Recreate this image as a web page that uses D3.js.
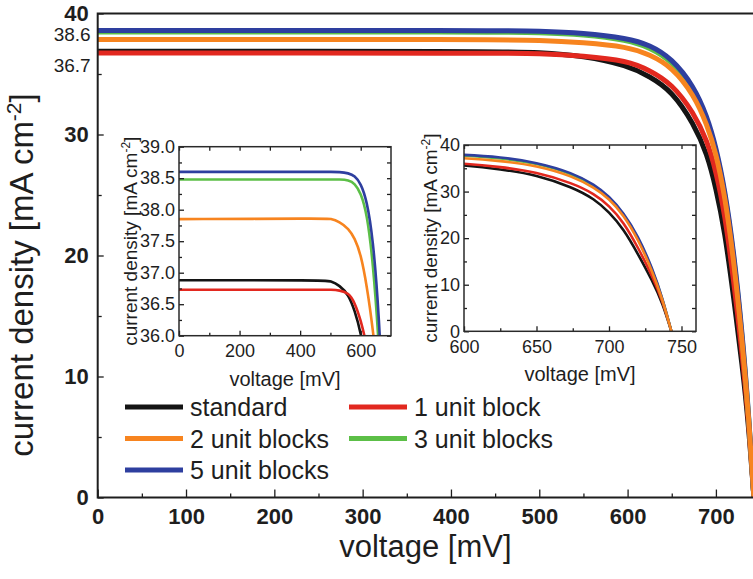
<!DOCTYPE html>
<html>
<head>
<meta charset="utf-8">
<script src="https://d3js.org/d3.v7.min.js"></script>
<style>
body { margin: 0; background: #fff; }
svg { display: block; font-family: "Liberation Sans", Arial, sans-serif; }
</style>
</head>
<body>
<div id="chart"></div>
<script>
// series, drawn in this order (later ones lie on top)
var seriesNames = ['standard', '1 unit block', '3 unit blocks', '5 unit blocks', '2 unit blocks'];
var seriesColors = ['#141414', '#e2281f', '#5cbf47', '#2e3f9f', '#f7841f'];

// J-V curves for the main plot and the right inset [mV] / [mA cm-2]
var voltage = [0, 450, 500, 550, 600, 625, 650, 675, 690, 700, 710, 720, 730, 737, 743];
var jStandard = [36.88, 36.88, 36.8, 36.5, 35.7, 34.8, 33.6, 30.9, 28.4, 25.6, 22.0, 16.6, 10.8, 6.0, 0];
var jOneBlock = [36.73, 36.73, 36.7, 36.5, 36.1, 35.3, 34.2, 31.8, 29.5, 27.0, 23.5, 18.0, 11.8, 6.5, 0];
var jTwoBlocks = [37.85, 37.85, 37.8, 37.6, 37.25, 36.6, 35.6, 33.3, 30.8, 28.5, 25.0, 19.8, 12.8, 6.8, 0];
var jThreeBlocks = [38.48, 38.48, 38.43, 38.28, 37.8, 37.2, 36.1, 33.8, 31.3, 28.8, 25.3, 20.2, 13.2, 6.9, 0];
var jFiveBlocks = [38.6, 38.6, 38.55, 38.4, 37.95, 37.4, 36.3, 34.0, 31.5, 29.0, 25.5, 20.5, 13.5, 7.0, 0];

// left inset (plateau zoom)
var insetVoltage = [0, 480, 500, 530, 560, 580, 600, 620, 640, 660, 680];
var iStandard = [36.88, 36.88, 36.87, 36.8, 36.65, 36.4, 36.06, 35.5, 34.8, 34.0, 33.0];
var iOneBlock = [36.73, 36.73, 36.73, 36.72, 36.68, 36.53, 36.25, 35.85, 35.3, 34.5, 33.5];
var iTwoBlocks = [37.85, 37.86, 37.86, 37.81, 37.7, 37.55, 37.3, 36.8, 36.12, 35.2, 34.0];
var iThreeBlocks = [38.48, 38.48, 38.48, 38.48, 38.47, 38.42, 38.27, 37.95, 37.2, 35.9, 34.0];
var iFiveBlocks = [38.6, 38.6, 38.6, 38.6, 38.58, 38.54, 38.42, 38.15, 37.56, 36.4, 34.3];

// ticks
var mainXTicks = [0, 100, 200, 300, 400, 500, 600, 700];
var mainXMinor = [50, 150, 250, 350, 450, 550, 650];
var mainYTicks = [0, 10, 20, 30, 40];
var mainYMinor = [5, 15, 25, 35];
var jscMarks = [38.6, 36.7];

var leftXTicks = [0, 200, 400, 600];
var leftXMinor = [100, 300, 500];
var leftYTicks = [36.0, 36.5, 37.0, 37.5, 38.0, 38.5, 39.0];
var leftYMinor = [36.25, 36.75, 37.25, 37.75, 38.25, 38.75];

var rightXTicks = [600, 650, 700, 750];
var rightXMinor = [625, 675, 725];
var rightYTicks = [0, 10, 20, 30, 40];
var rightYMinor = [5, 15, 25, 35];

// legend layout: display order
var legendOrder = ['standard', '1 unit block', '2 unit blocks', '3 unit blocks', '5 unit blocks'];

var mainCurves = [jStandard, jOneBlock, jThreeBlocks, jFiveBlocks, jTwoBlocks];
var insetCurves = [iStandard, iOneBlock, iThreeBlocks, iFiveBlocks, iTwoBlocks];

var W = 753, H = 579;
var svg = d3.select('#chart').append('svg')
    .attr('width', W)
    .attr('height', H);

svg.append('rect').attr('width', W).attr('height', H).attr('fill', '#fff');

var axisColor = '#1e1e1e';

function styleAxis(g, size, bold) {
    g.select('.domain').remove();
    g.selectAll('line').attr('stroke', axisColor).attr('stroke-width', 1.3);
    g.selectAll('text')
        .attr('fill', '#1e1e1e')
        .style('font-size', size + 'px')
        .style('font-weight', bold ? 'bold' : 'normal')
        .style('font-family', '"Liberation Sans", Arial, sans-serif');
}

function curvePts(vs, js) {
    return vs.map(function (v, i) { return [v, js[i]]; });
}

// ---------- main plot ----------
var x = d3.scaleLinear().domain([0, 742]).range([97.7, 753]);
var y = d3.scaleLinear().domain([0, 40]).range([497.5, 13.5]);

svg.append('clipPath').attr('id', 'clipMain')
    .append('rect')
    .attr('x', x(0)).attr('y', y(40))
    .attr('width', x(742) - x(0)).attr('height', y(0) - y(40));

var line = d3.line()
    .x(function (d) { return x(d[0]); })
    .y(function (d) { return y(d[1]); })
    .curve(d3.curveBasis);

svg.append('g').attr('clip-path', 'url(#clipMain)')
    .selectAll('path')
    .data(mainCurves)
    .enter().append('path')
    .attr('d', function (d) { return line(curvePts(voltage, d)); })
    .attr('fill', 'none')
    .attr('stroke', function (d, i) { return seriesColors[i]; })
    .attr('stroke-width', 5);

// axes
var gx = svg.append('g').attr('transform', 'translate(0,' + y(0) + ')')
    .call(d3.axisBottom(x).tickValues(mainXTicks).tickSize(-8).tickSizeOuter(0).tickPadding(11));
styleAxis(gx, 22, true);
var gxm = svg.append('g').attr('transform', 'translate(0,' + y(0) + ')')
    .call(d3.axisBottom(x).tickValues(mainXMinor).tickSize(-4).tickFormat(''));
styleAxis(gxm, 10, false);

var gy = svg.append('g').attr('transform', 'translate(' + x(0) + ',0)')
    .call(d3.axisLeft(y).tickValues(mainYTicks).tickSize(-6).tickSizeOuter(0).tickPadding(9));
styleAxis(gy, 22, true);
var gym = svg.append('g').attr('transform', 'translate(' + x(0) + ',0)')
    .call(d3.axisLeft(y).tickValues(mainYMinor).tickSize(-4).tickFormat(''));
styleAxis(gym, 10, false);

// frame lines (left, bottom, top)
svg.append('path')
    .attr('d', 'M' + x(742) + ',' + y(40) + 'H' + x(0) + 'V' + y(0) + 'H' + x(742))
    .attr('fill', 'none')
    .attr('stroke', axisColor)
    .attr('stroke-width', 2);

// Jsc labels next to the axis
svg.selectAll('text.jsc')
    .data(jscMarks)
    .enter().append('text')
    .attr('class', 'jsc')
    .attr('x', x(0) - 7)
    .attr('y', function (d, i) { return y(d) + (i === 0 ? 11 : 19); })
    .attr('text-anchor', 'end')
    .attr('fill', '#1e1e1e')
    .style('font-size', '19px')
    .text(function (d) { return d.toFixed(1); });

// axis titles
svg.append('text')
    .attr('x', (x(0) + x(742)) / 2)
    .attr('y', 557)
    .attr('text-anchor', 'middle')
    .attr('fill', '#1e1e1e')
    .style('font-size', '31px')
    .text('voltage [mV]');

var yt = svg.append('text')
    .attr('transform', 'translate(33,' + 275 + ') rotate(-90)')
    .attr('text-anchor', 'middle')
    .attr('fill', '#1e1e1e')
    .style('font-size', '33px');
yt.append('tspan').text('current density [mA cm');
yt.append('tspan').attr('dy', -12).style('font-size', '21px').text('-2');
yt.append('tspan').attr('dy', 12).text(']');

// legend
var legend = svg.append('g');
legendOrder.forEach(function (name, k) {
    var col = k % 2, row = Math.floor(k / 2);
    var lx = col === 0 ? 125 : 349;
    var ly = 407 + row * 31.5;
    var idx = seriesNames.indexOf(name);
    legend.append('line')
        .attr('x1', lx).attr('x2', lx + 58)
        .attr('y1', ly).attr('y2', ly)
        .attr('stroke', seriesColors[idx])
        .attr('stroke-width', 5);
    legend.append('text')
        .attr('x', lx + 65)
        .attr('y', ly + 9)
        .attr('fill', '#1e1e1e')
        .style('font-size', '25px')
        .text(name);
});

// ---------- inset drawing helper ----------
function drawInset(opt) {
    var ix = d3.scaleLinear().domain(opt.xDomain).range(opt.xRange);
    var iy = d3.scaleLinear().domain(opt.yDomain).range(opt.yRange);
    var g = svg.append('g');

    g.append('rect')
        .attr('x', opt.xRange[0]).attr('y', opt.yRange[1])
        .attr('width', opt.xRange[1] - opt.xRange[0])
        .attr('height', opt.yRange[0] - opt.yRange[1])
        .attr('fill', '#fff');

    g.append('clipPath').attr('id', opt.id)
        .append('rect')
        .attr('x', opt.xRange[0]).attr('y', opt.yRange[1])
        .attr('width', opt.xRange[1] - opt.xRange[0])
        .attr('height', opt.yRange[0] - opt.yRange[1]);

    var ln = d3.line()
        .x(function (d) { return ix(d[0]); })
        .y(function (d) { return iy(d[1]); })
        .curve(d3.curveBasis);

    g.append('g').attr('clip-path', 'url(#' + opt.id + ')')
        .selectAll('path')
        .data(opt.curves)
        .enter().append('path')
        .attr('d', function (d) { return ln(curvePts(opt.volts, d)); })
        .attr('fill', 'none')
        .attr('stroke', function (d, i) { return seriesColors[i]; })
        .attr('stroke-width', 2.6);

    var b = g.append('g').attr('transform', 'translate(0,' + opt.yRange[0] + ')')
        .call(d3.axisBottom(ix).tickValues(opt.xTicks).tickSize(-5).tickSizeOuter(0).tickPadding(9).tickFormat(d3.format('d')));
    styleAxis(b, 18, false);
    var bm = g.append('g').attr('transform', 'translate(0,' + opt.yRange[0] + ')')
        .call(d3.axisBottom(ix).tickValues(opt.xMinor).tickSize(-3).tickFormat(''));
    styleAxis(bm, 10, false);
    var t = g.append('g').attr('transform', 'translate(0,' + opt.yRange[1] + ')')
        .call(d3.axisTop(ix).tickValues(opt.xTicks.concat(opt.xMinor)).tickSize(-4).tickFormat(''));
    styleAxis(t, 10, false);

    var l = g.append('g').attr('transform', 'translate(' + opt.xRange[0] + ',0)')
        .call(d3.axisLeft(iy).tickValues(opt.yTicks).tickSize(-5).tickSizeOuter(0).tickPadding(4).tickFormat(d3.format(opt.yFormat)));
    styleAxis(l, 18, false);
    var lm = g.append('g').attr('transform', 'translate(' + opt.xRange[0] + ',0)')
        .call(d3.axisLeft(iy).tickValues(opt.yMinor).tickSize(-3).tickFormat(''));
    styleAxis(lm, 10, false);
    var r = g.append('g').attr('transform', 'translate(' + opt.xRange[1] + ',0)')
        .call(d3.axisRight(iy).tickValues(opt.yTicks.concat(opt.yMinor)).tickSize(-4).tickFormat(''));
    styleAxis(r, 10, false);

    g.append('rect')
        .attr('x', opt.xRange[0]).attr('y', opt.yRange[1])
        .attr('width', opt.xRange[1] - opt.xRange[0])
        .attr('height', opt.yRange[0] - opt.yRange[1])
        .attr('fill', 'none')
        .attr('stroke', '#2a2a2a')
        .attr('stroke-width', 1.5);

    g.append('text')
        .attr('x', (opt.xRange[0] + opt.xRange[1]) / 2)
        .attr('y', opt.yRange[0] + 50)
        .attr('text-anchor', 'middle')
        .attr('fill', '#1e1e1e')
        .style('font-size', '20px')
        .text('voltage [mV]');

    var tt = g.append('text')
        .attr('transform', 'translate(' + opt.titleX + ',' + (opt.yRange[0] + opt.yRange[1]) / 2 + ') rotate(-90)')
        .attr('text-anchor', 'middle')
        .attr('fill', '#1e1e1e')
        .style('font-size', '19px');
    tt.append('tspan').text('current density [mA cm');
    tt.append('tspan').attr('dy', -7).style('font-size', '12px').text('-2');
    tt.append('tspan').attr('dy', 7).text(']');
}

drawInset({
    id: 'clipLeft',
    xDomain: [0, 700], xRange: [179, 391],
    yDomain: [36, 39], yRange: [335.7, 146.7],
    volts: insetVoltage, curves: insetCurves,
    xTicks: leftXTicks, xMinor: leftXMinor,
    yTicks: leftYTicks, yMinor: leftYMinor, yFormat: '.1f',
    titleX: 137
});

drawInset({
    id: 'clipRight',
    xDomain: [600, 760], xRange: [464, 696],
    yDomain: [0, 40], yRange: [331.3, 145],
    volts: voltage, curves: mainCurves,
    xTicks: rightXTicks, xMinor: rightXMinor,
    yTicks: rightYTicks, yMinor: rightYMinor, yFormat: 'd',
    titleX: 437
});
</script>
</body>
</html>
